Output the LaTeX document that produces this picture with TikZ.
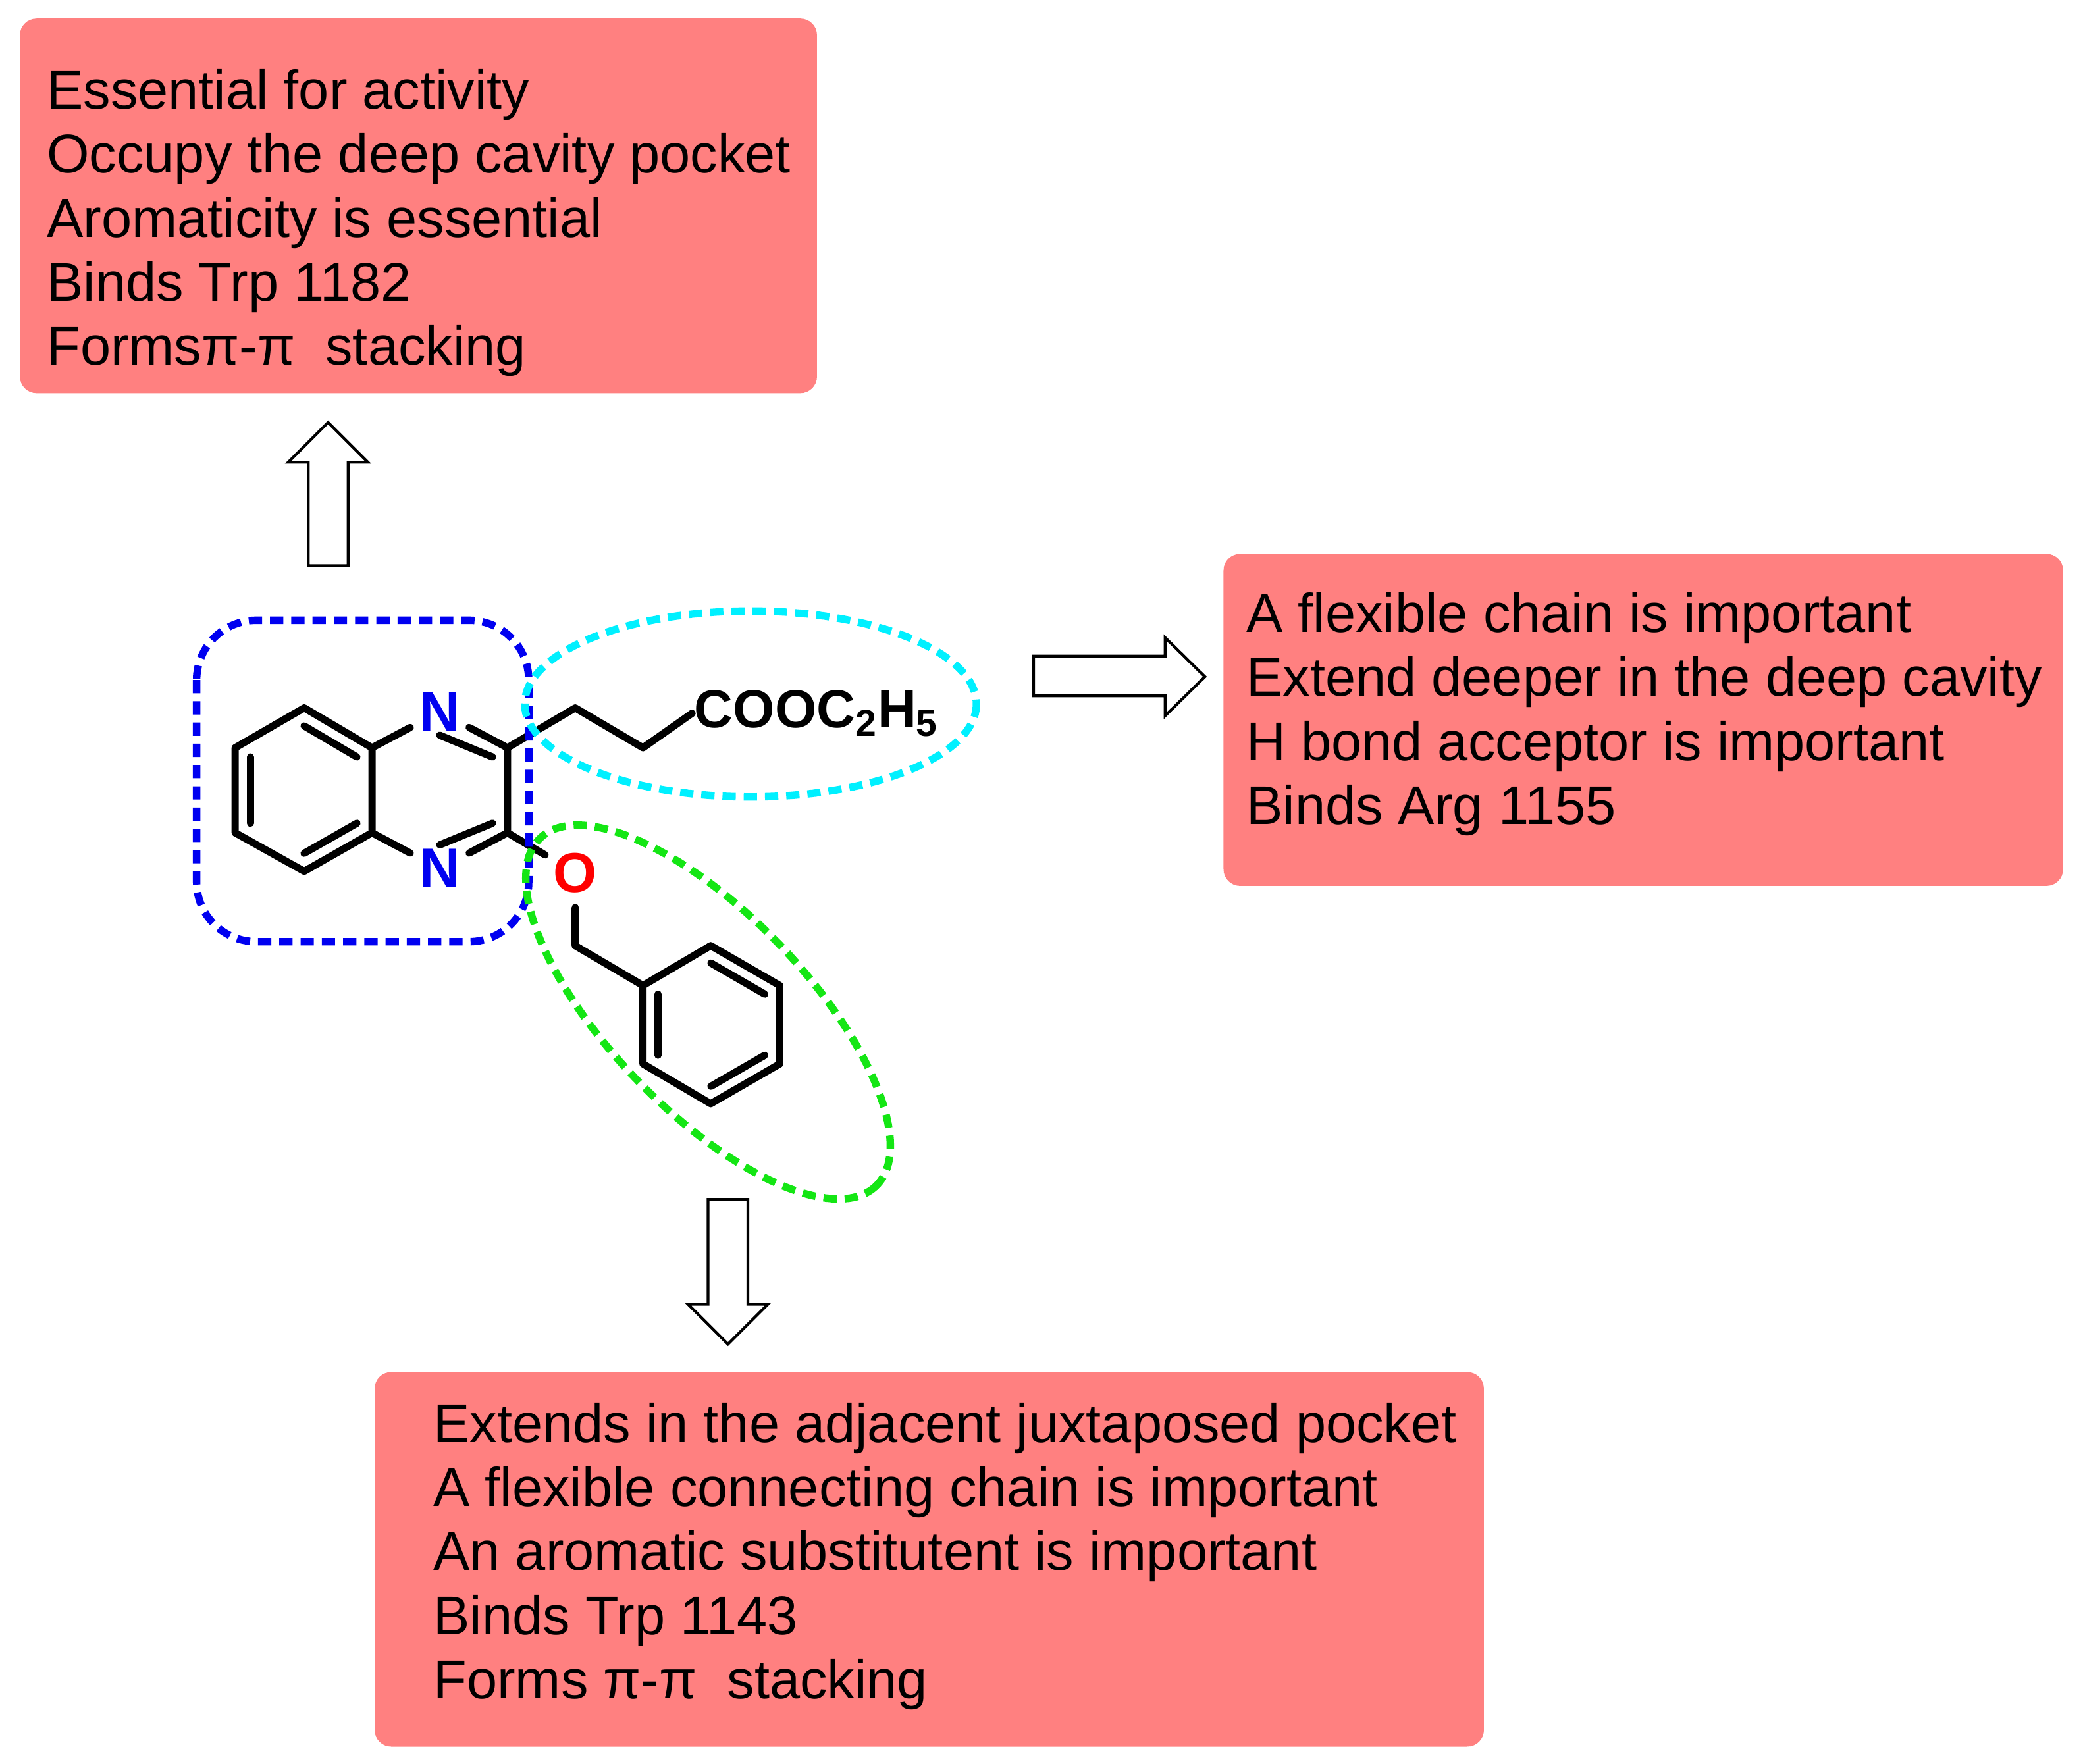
\documentclass[tikz,border=0pt]{standalone}
\usepackage{fontspec}
\setmainfont{Liberation Sans}
\usetikzlibrary{calc}
\definecolor{salmon}{RGB}{255,128,128}
\definecolor{cyanring}{RGB}{0,240,255}
\definecolor{greenring}{RGB}{20,230,20}
\definecolor{bluering}{RGB}{0,0,240}
\begin{document}
\begin{tikzpicture}[x=0.02cm,y=-0.02cm,
  infobox/.style={fill=salmon,rounded corners=0.25cm},
  info/.style={anchor=north west,align=left,font=\fontsize{23.4}{27.4}\selectfont,inner sep=0pt},
  bond/.style={line width=3.1pt,line cap=round,line join=round},
  atom/.style={font=\fontsize{24}{24}\selectfont\bfseries,inner sep=1.5pt,circle},
  hollow/.style={draw,line width=1.2pt,fill=white},
  ring/.style={line width=3.2pt,dash pattern=on 0.2cm off 0.12cm}]
\useasboundingbox (0,0) rectangle (1568,1328);
% boxes
\fill[infobox] (15,14) rectangle (615,296);
\node[info] (t1) at (35,52) {Essential for activity\\Occupy the deep cavity pocket\\Aromaticity is essential\\Binds Trp 1182\\Formsπ-π\ \ stacking};
\fill[infobox] (921,417) rectangle (1553,667);
\node[info] (t2) at (938,446) {A flexible chain is important\\Extend deeper in the deep cavity\\H bond acceptor is important\\Binds Arg 1155};
\fill[infobox] (282,1033) rectangle (1117,1315);
\node[info] (t3) at (326,1056) {Extends in the adjacent juxtaposed pocket\\A flexible connecting chain is important\\An aromatic substitutent is important\\Binds Trp 1143\\Forms π-π\ \ stacking};
% hollow arrows
\draw[hollow] (232,426) -- (232,348) -- (217,348) -- (247,318) -- (277,348) -- (262,348) -- (262,426) -- cycle;
\draw[hollow] (778,494) -- (877,494) -- (877,480) -- (907,509.5) -- (877,539) -- (877,524) -- (778,524) -- cycle;
\draw[hollow] (533,903) -- (563,903) -- (563,982) -- (578,982) -- (548,1012) -- (518,982) -- (533,982) -- cycle;
% molecule coordinates
\coordinate (a1) at (229,533); \coordinate (a2) at (280,563); \coordinate (a3) at (280,627);
\coordinate (a4) at (229,656); \coordinate (a5) at (177,627); \coordinate (a6) at (177,563);
\coordinate (ca) at (228.5,594.5);
\node[atom,text=bluering] (n1) at (331,536) {N};
\node[atom,text=bluering] (n4) at (331,654) {N};
\coordinate (c2) at (382,563); \coordinate (c3) at (382,627); \coordinate (cb) at (331,594.5);
\coordinate (s1) at (433,533); \coordinate (s2) at (484,563);
\node[atom,anchor=west,inner sep=0pt,font=\fontsize{23}{23}\selectfont\bfseries] (est) at (521,537) {COOC\textsubscript{2}H\textsubscript{5}};
\node[atom,text=red] (ox) at (433,657) {O};
\coordinate (ch) at (433,712);
\coordinate (p1) at (484,742); \coordinate (p2) at (535,712); \coordinate (p3) at (587,742);
\coordinate (p4) at (587,801); \coordinate (p5) at (535,831); \coordinate (p6) at (484,801);
\coordinate (pc) at (535.5,771.5);
% bonds
\draw[bond] (a1)--(a2)--(a3)--(a4)--(a5)--(a6)--cycle;
\draw[bond] ($(a1)!0.22!(ca)$)--($(a2)!0.22!(ca)$);
\draw[bond] ($(a3)!0.22!(ca)$)--($(a4)!0.22!(ca)$);
\draw[bond] ($(a5)!0.22!(ca)$)--($(a6)!0.22!(ca)$);
\draw[bond] (a2)--(n1); \draw[bond] (a3)--(n4);
\draw[bond] (n1)--(c2)--(c3)--(n4);
\draw[bond] ($(n1)!0.3!(cb)$)--($(c2)!0.22!(cb)$);
\draw[bond] ($(c3)!0.22!(cb)$)--($(n4)!0.3!(cb)$);
\draw[bond] (c2)--(s1)--(s2)--(est.west);
\draw[bond] (c3)--(ox); \draw[bond] (ox)--(ch)--(p1);
\draw[bond] (p1)--(p2)--(p3)--(p4)--(p5)--(p6)--cycle;
\draw[bond] ($(p2)!0.22!(pc)$)--($(p3)!0.22!(pc)$);
\draw[bond] ($(p4)!0.22!(pc)$)--($(p5)!0.22!(pc)$);
\draw[bond] ($(p6)!0.22!(pc)$)--($(p1)!0.22!(pc)$);
% highlight outlines
\draw[ring,bluering,rounded corners=0.9cm] (148,467) rectangle (398,709);
\draw[ring,cyanring] (565,530) ellipse [x radius=170,y radius=70];
\draw[ring,greenring] (533,762) [rotate around={-46:(533,762)}] ellipse [x radius=182,y radius=74];
\end{tikzpicture}
\end{document}
